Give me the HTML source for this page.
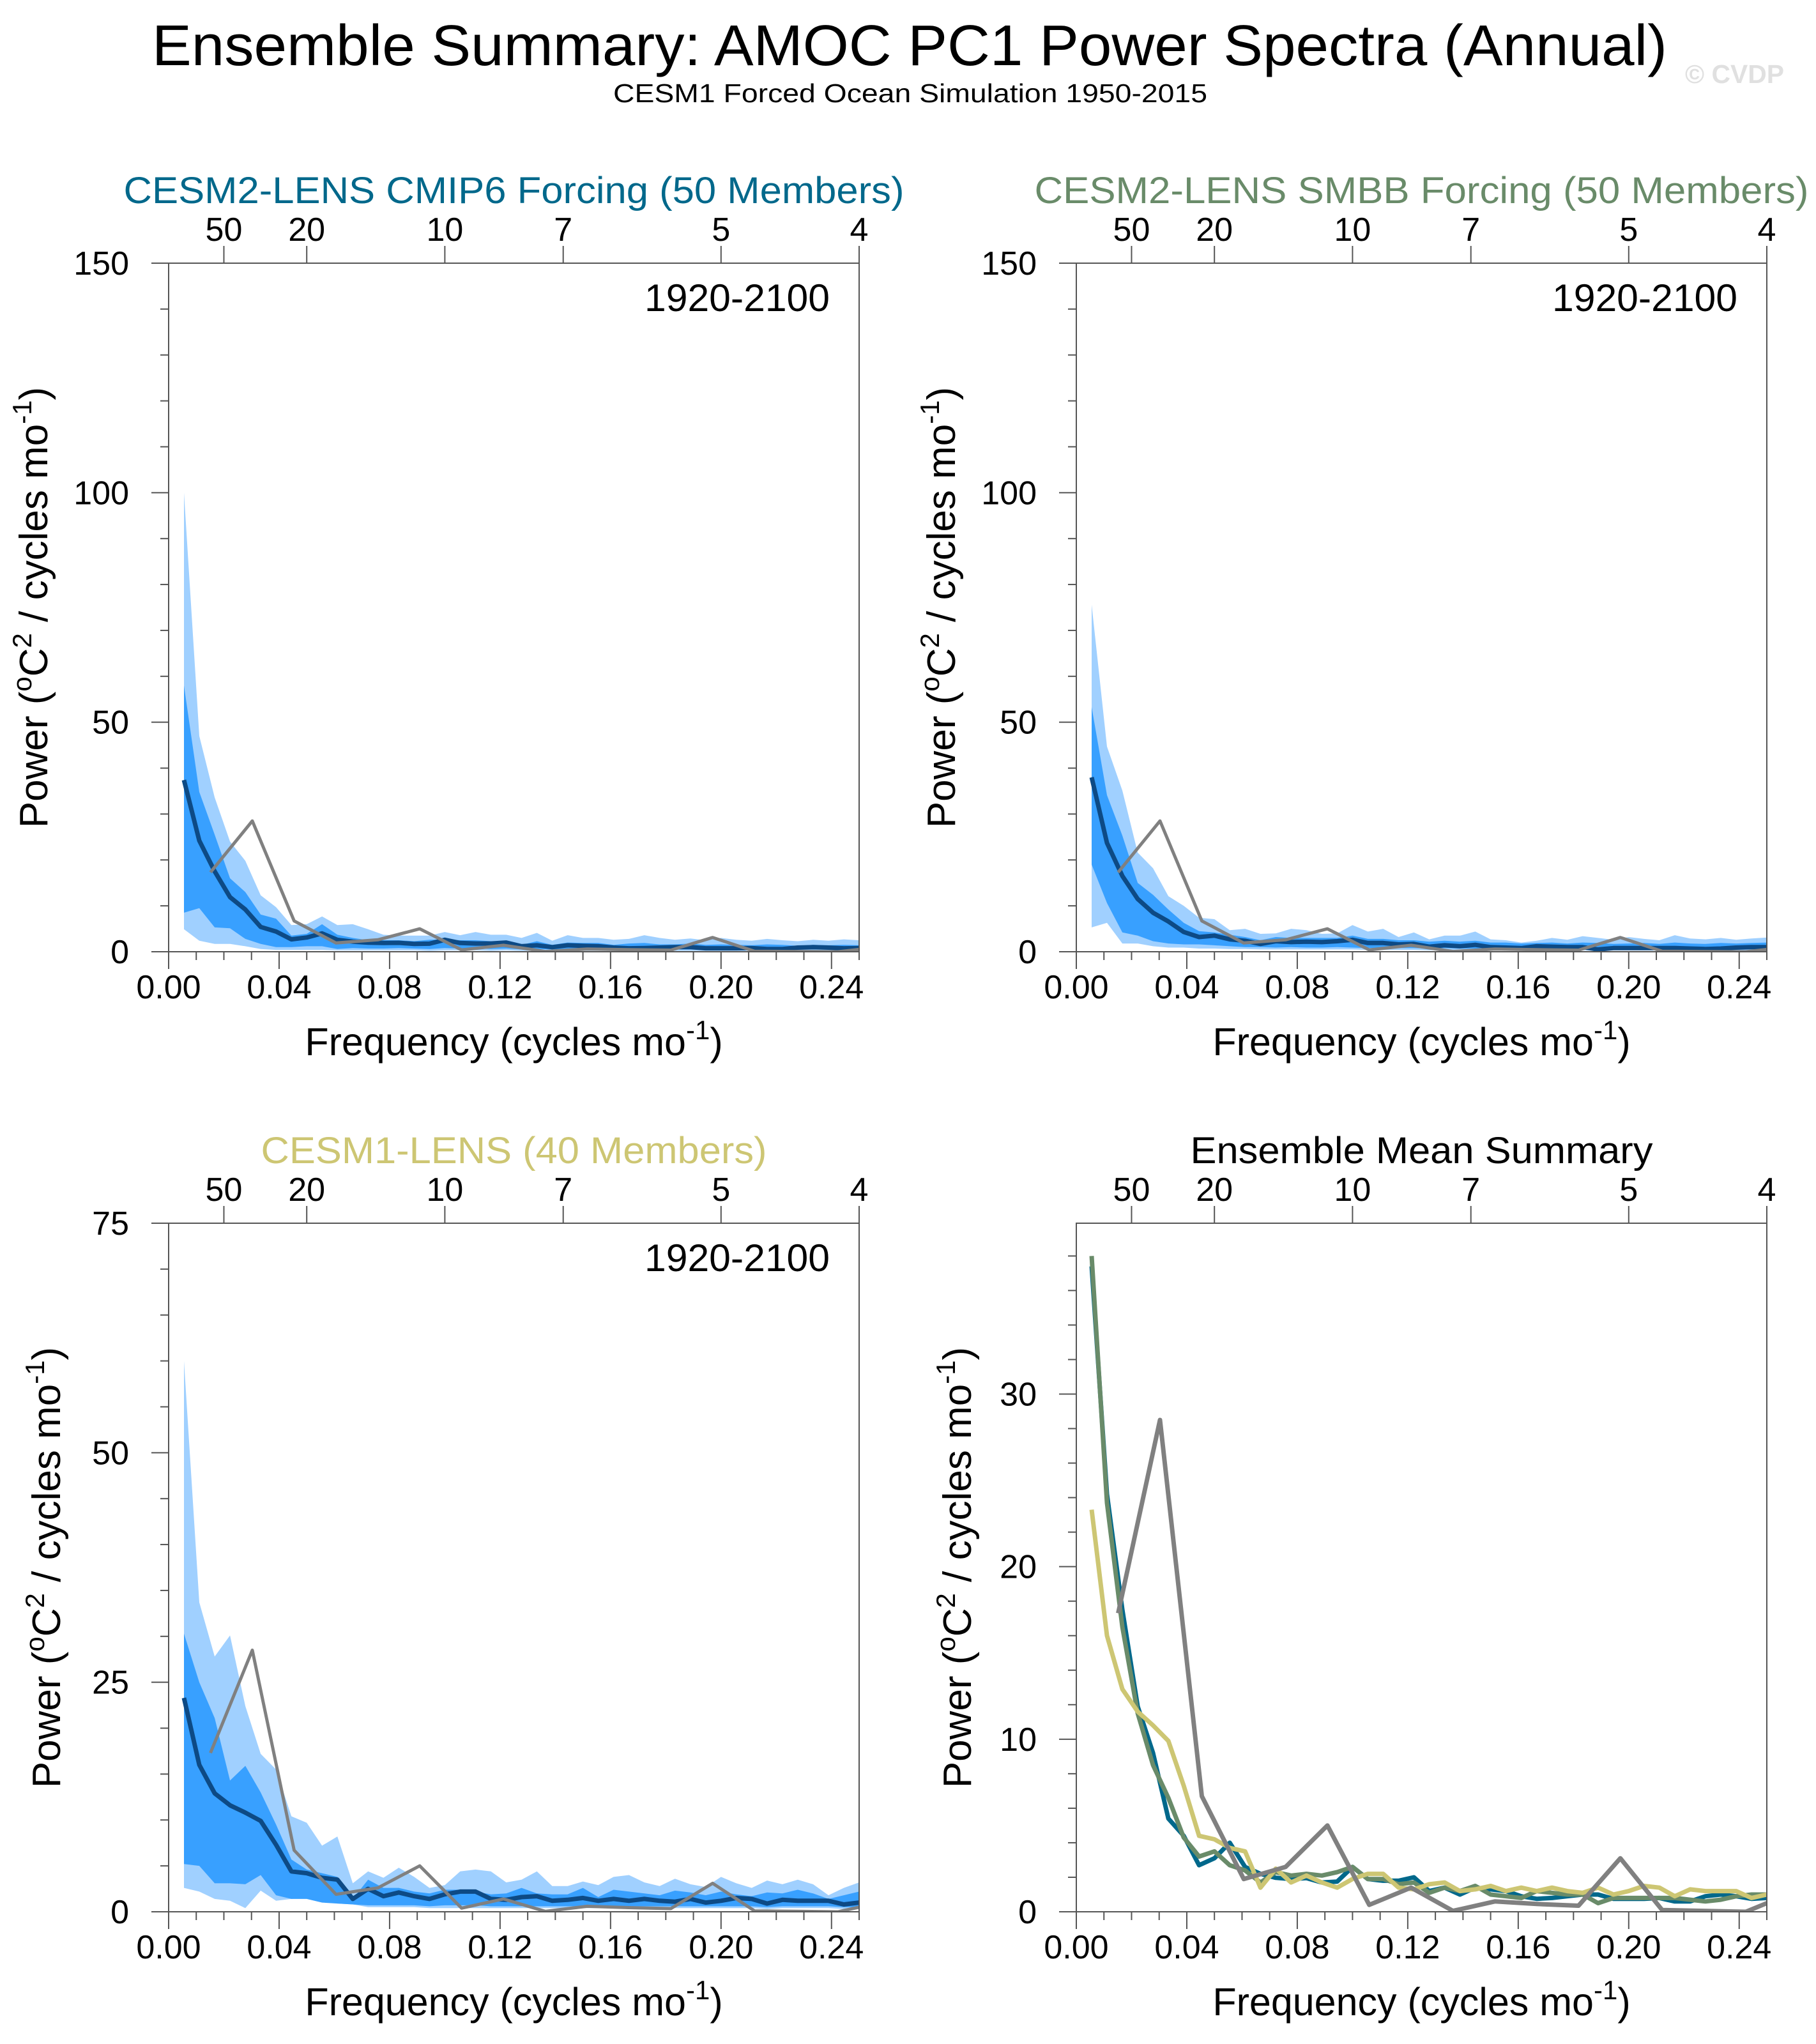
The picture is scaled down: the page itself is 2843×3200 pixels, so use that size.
<!DOCTYPE html>
<html><head><meta charset="utf-8"><title>AMOC PC1 Power Spectra</title>
<style>
html,body{margin:0;padding:0;background:#fff;}
svg{display:block;font-family:"Liberation Sans",Arial,sans-serif;}
</style></head>
<body>
<svg id="fig" xmlns="http://www.w3.org/2000/svg" width="2843" height="3200" viewBox="0 0 2843 3200">
<rect x="0" y="0" width="2843" height="3200" fill="#fff"/>
<text x="1424" y="102" font-size="90" text-anchor="middle" textLength="2372" lengthAdjust="spacingAndGlyphs">Ensemble Summary: AMOC PC1 Power Spectra (Annual)</text>
<text x="1425" y="160" font-size="41" text-anchor="middle" textLength="930" lengthAdjust="spacingAndGlyphs">CESM1 Forced Ocean Simulation 1950-2015</text>
<text x="2638" y="130" font-size="41" font-weight="bold" fill="#e0e0e0" textLength="155" lengthAdjust="spacingAndGlyphs">© CVDP</text>
</svg>
<script>
// ---- data ----
const dfModel = 1/180;   // model frequency spacing
const dfObs = 1/66;      // observation frequency spacing
const obsPower = [17.3,28.5,6.7,1.9,2.6,5.0,0.4,1.4,0.05,0.6,0.45,0.35,3.1,0.1,0.05,0.0,1.0];

const cmip6Mean = [37.4,24.2,17.5,11.9,9.2,5.4,4.4,2.7,3.1,4.0,2.6,2.2,1.97,1.9,1.95,1.7,1.75,2.6,1.9,1.8,1.8,2.0,1.2,1.4,1.0,1.4,1.3,1.2,0.9,0.75,0.8,0.9,1.0,1.0,0.75,0.75,0.75,0.8,0.6,0.6,0.9,1.0,0.9,0.75,0.8];
const cmip6LightHi = [100,47,33.6,24,19.8,12.3,9.7,5.8,6.0,7.7,5.8,6.0,4.9,3.7,3.5,3.5,3.5,4.3,3.6,4.3,3.7,3.7,3.0,4.1,2.4,3.6,3.0,3.0,2.6,2.8,3.6,3.0,2.6,2.9,2.5,3.0,2.6,2.4,2.8,2.5,2.3,2.6,2.4,2.7,2.5];
const cmip6DarkHi = [58,34.8,25.5,16,13,8.1,7.2,3.5,3.9,6.0,3.7,3.0,2.5,2.5,2.5,2.3,2.6,2.7,2.5,2.5,2.3,2.0,1.5,2.3,1.5,2.0,1.9,1.9,1.5,1.8,1.9,1.6,1.6,1.8,1.5,1.6,1.5,1.4,1.6,1.5,1.3,1.5,1.4,1.5,1.4];
const cmip6DarkLo = [8.5,9.5,5.3,5.1,2.8,1.7,1.0,1.0,1.2,1.2,0.6,0.8,0.7,0.7,0.8,0.7,0.6,0.8,0.7,0.7,0.6,0.7,0.5,0.6,0.5,0.6,0.6,0.5,0.5,0.5,0.6,0.5,0.5,0.5,0.5,0.5,0.5,0.5,0.4,0.4,0.5,0.5,0.5,0.4,0.4];
const cmip6LightLo = [4.9,2.4,1.7,1.7,1.2,0.6,0.4,0.4,0.4,0.4,0.3,0.3,0.3,0.3,0.3,0.3,0.2,0.3,0.3,0.3,0.2,0.3,0.2,0.2,0.2,0.2,0.2,0.2,0.2,0.2,0.2,0.2,0.2,0.2,0.2,0.2,0.2,0.2,0.1,0.1,0.2,0.2,0.2,0.1,0.1];

const smbbMean = [38.0,23.7,16.5,11.5,8.5,6.6,4.3,3.2,3.5,2.7,2.4,1.7,2.3,2.1,2.2,2.1,2.3,2.6,1.9,1.9,1.6,1.7,1.1,1.4,1.2,1.5,1.0,0.9,0.8,1.2,1.1,1.0,1.0,0.5,0.8,0.8,0.8,0.8,0.8,0.7,0.6,0.7,0.9,1.0,1.0];
const smbbLightHi = [75.6,44.7,35.1,21.6,18.2,12.1,10.0,7.4,7.1,4.7,5.0,3.9,4.0,5.0,4.7,3.9,4.0,5.8,4.4,5.0,3.2,4.2,2.7,3.5,3.5,4.4,2.7,2.5,2.0,2.4,3.0,2.6,3.4,3.0,2.6,3.2,2.8,2.5,3.6,2.9,2.7,3.0,2.6,2.9,3.1];
const smbbDarkHi = [53.3,34.1,25.3,15,12.4,9.2,6.3,4.5,4.2,3.7,3.2,2.5,3.2,3.0,3.0,3.0,3.0,3.5,2.8,2.8,2.5,2.5,2.2,2.4,2.2,2.4,2.0,2.0,1.8,1.9,2.0,1.8,2.0,1.9,1.7,1.8,1.9,1.7,2.0,1.8,1.7,1.9,1.8,1.9,2.0];
const smbbDarkLo = [19,10.6,4.2,3.5,2.3,1.8,1.6,1.6,1.4,1.2,1.0,1.0,0.9,1.0,0.9,0.9,1.0,0.9,0.8,0.9,0.8,0.8,0.7,0.8,0.7,0.7,0.6,0.6,0.6,0.7,0.6,0.6,0.6,0.4,0.5,0.5,0.5,0.5,0.5,0.5,0.4,0.5,0.5,0.6,0.6];
const smbbLightLo = [5.3,6.3,1.8,1.8,1.2,0.9,0.9,0.7,0.7,0.6,0.6,0.5,0.5,0.5,0.5,0.5,0.5,0.5,0.4,0.4,0.4,0.4,0.3,0.4,0.3,0.3,0.3,0.3,0.3,0.3,0.3,0.3,0.3,0.2,0.3,0.3,0.3,0.3,0.3,0.3,0.2,0.3,0.3,0.3,0.3];

const cesm1Mean = [23.3,16.0,12.9,11.6,10.8,9.9,7.3,4.4,4.2,3.7,3.5,1.4,2.5,1.7,2.1,1.7,1.4,1.9,2.2,2.2,1.4,1.3,1.6,1.7,1.2,1.3,1.5,1.2,1.4,1.2,1.4,1.2,1.1,1.4,1.0,1.2,1.5,1.4,0.9,1.3,1.2,1.2,1.2,0.8,1.0];
const cesm1LightHi = [60,33.7,27.8,30.1,22.4,17.2,15.5,10.4,9.7,7.2,8.2,3.1,4.4,3.7,4.8,3.8,2.6,2.9,4.4,4.6,4.4,3.2,3.5,4.4,2.8,2.8,3.3,2.9,3.8,4.0,3.2,2.8,3.6,3.0,2.7,3.8,3.1,2.6,3.4,3.0,3.5,3.0,1.8,2.6,3.2];
const cesm1DarkHi = [30.3,25,21.1,14.3,15.9,13,9.5,5.7,4.6,4.2,3.8,1.4,3.5,2.6,2.6,2.2,2.0,2.4,2.4,2.2,1.9,2.0,2.6,2.0,1.9,1.9,2.6,1.6,2.4,2.2,2.0,1.8,2.3,2.1,1.8,2.2,1.9,1.7,2.1,2.0,2.4,2.0,1.4,1.8,2.2];
const cesm1DarkLo = [5.2,5.0,3.1,3.1,3.0,4.0,1.8,1.4,1.4,1.0,0.9,0.8,0.7,0.7,0.7,0.7,0.6,0.7,0.7,0.7,0.6,0.6,0.6,0.6,0.6,0.6,0.6,0.6,0.6,0.6,0.6,0.6,0.6,0.6,0.6,0.6,0.6,0.6,0.5,0.6,0.6,0.6,0.6,0.5,0.5];
const cesm1LightLo = [2.6,2.2,1.4,1.2,0.4,2.3,1.2,1.4,1.6,1.2,0.9,0.8,0.5,0.5,0.5,0.5,0.4,0.4,0.4,0.4,0.4,0.4,0.4,0.4,0.4,0.4,0.4,0.4,0.4,0.4,0.4,0.4,0.4,0.4,0.4,0.4,0.4,0.4,0.3,0.4,0.4,0.4,0.4,0.3,0.3];

const xTickLabels = ["0.00","0.04","0.08","0.12","0.16","0.20","0.24"];
const periodLabels = [50,20,10,7,5,4];

// ---- drawing ----
const NS = "http://www.w3.org/2000/svg";
const svg = document.getElementById('fig');
function mk(tag, attrs, parent){
  const e = document.createElementNS(NS, tag);
  for (const k in attrs) e.setAttribute(k, attrs[k]);
  (parent||svg).appendChild(e);
  return e;
}
const XMAX = 0.25, PW = 1081, PH = 1078;

function yTitle(g, x, cy){
  const t = mk('text', {x:x, y:cy, 'font-size':62, 'text-anchor':'middle', transform:'rotate(-90 '+x+' '+cy+')'}, g);
  
  
  t.innerHTML = 'Power (<tspan font-size="42" dy="-25">o</tspan><tspan dy="25">C</tspan><tspan font-size="42" dy="-25">2</tspan><tspan dy="25"> / cycles mo</tspan><tspan font-size="42" dy="-25">-1</tspan><tspan dy="25">)</tspan>';
}

function panel(opt){
  const L = opt.left, T = opt.top, R = L + PW, B = T + PH;
  const g = mk('g', {});
  
  
  const xs = f => L + f / XMAX * PW;
  const ys = v => B - v / opt.ymax * PH;
  const cid = 'clip-' + opt.name;
  const cp = mk('clipPath', {id: cid}, g);
  mk('rect', {x:L, y:T, width:PW, height:PH}, cp);

  const tt = mk('text', {x:(L+R)/2, y:T-94, 'font-size':58, 'text-anchor':'middle', fill:opt.titleColor, textLength:opt.titleLen, lengthAdjust:'spacingAndGlyphs'}, g);
  
  
  tt.textContent = opt.title;

  const plot = mk('g', {'clip-path':'url(#'+cid+')'}, g);
  
  

  if (opt.bands){
    const b = opt.bands;
    function band(hi, lo, color, nm){
      let d = '';
      hi.forEach((v,i)=>{ d += (i?'L':'M') + xs((i+1)*dfModel).toFixed(1) + ',' + ys(v).toFixed(1); });
      for (let i = lo.length-1; i >= 0; i--) d += 'L' + xs((i+1)*dfModel).toFixed(1) + ',' + ys(lo[i]).toFixed(1);
      const p = mk('path', {d:d+'Z', fill:color, stroke:'none'}, plot);
      
      
    }
    band(b.lightHi, b.lightLo, '#a0d0ff', 'spread-band-outer');
    band(b.darkHi, b.darkLo, '#38a0ff', 'spread-band-inner');
  }
  function line(vals, df, color, w, nm){
    let d = '';
    vals.forEach((v,i)=>{ d += (i?'L':'M') + xs((i+1)*df).toFixed(1) + ',' + ys(v).toFixed(1); });
    const p = mk('path', {d:d, fill:'none', stroke:color, 'stroke-width':w, 'stroke-linejoin':'round'}, plot);
    
    
  }
  opt.lines.forEach(l => line(l.vals, l.df, l.color, l.w, l.name));

  const fr = mk('path', {d:'M'+L+','+T+'H'+R+'V'+B+'H'+L+'Z', fill:'none', stroke:'#555', 'stroke-width':2}, g);
  
  

  for (let v = 0; v <= opt.ymax + 1e-6; v += opt.yminor){
    const major = Math.abs(v/opt.ymajor - Math.round(v/opt.ymajor)) < 1e-6;
    const tk = mk('line', {x1:L, x2:L-(major?27:13), y1:ys(v), y2:ys(v), stroke:'#555', 'stroke-width':2}, g);
    
    
    if (major){
      const lb = mk('text', {x:L-62, y:ys(v)+18, 'font-size':52, 'text-anchor':'end'}, g);
      
      
      lb.textContent = Math.round(v);
    }
  }
  for (let i = 0; i <= 25; i++){
    const f = i * 0.01, major = (i % 4 === 0);
    const tk = mk('line', {x1:xs(f), x2:xs(f), y1:B, y2:B+(major?27:13), stroke:'#555', 'stroke-width':2}, g);
    
    
  }
  xTickLabels.forEach(s => {
    const lb = mk('text', {x:xs(parseFloat(s)), y:B+73, 'font-size':52, 'text-anchor':'middle'}, g);
    
    
    lb.textContent = s;
  });
  periodLabels.forEach(p => {
    const x = xs(1/p);
    const tk = mk('line', {x1:x, x2:x, y1:T, y2:T-27, stroke:'#555', 'stroke-width':2}, g);
    
    
    const lb = mk('text', {x:x, y:T-35, 'font-size':52, 'text-anchor':'middle'}, g);
    
    
    lb.textContent = p;
  });
  const xt = mk('text', {x:(L+R)/2, y:B+162, 'font-size':61, 'text-anchor':'middle'}, g);
  
  
  xt.innerHTML = 'Frequency (cycles mo<tspan font-size="42" dy="-25">-1</tspan><tspan dy="25">)</tspan>';
  yTitle(g, opt.ytx, (T+B)/2);
  if (opt.period){
    const pl = mk('text', {x:R-46, y:T+75, 'font-size':60, 'text-anchor':'end', textLength:290, lengthAdjust:'spacingAndGlyphs'}, g);
    
    
    pl.textContent = '1920-2100';
  }
}

const meanColor = '#0d4a85', obsColor = '#808080';
panel({name:'panel-cmip6', left:264, top:412, ymax:150, ymajor:50, yminor:10, ytx:74,
  title:'CESM2-LENS CMIP6 Forcing (50 Members)', titleColor:'#00688b', titleLen:1222, period:true,
  bands:{lightHi:cmip6LightHi, lightLo:cmip6LightLo, darkHi:cmip6DarkHi, darkLo:cmip6DarkLo},
  lines:[{vals:cmip6Mean, df:dfModel, color:meanColor, w:7, name:'ensemble-mean-line'},
         {vals:obsPower, df:dfObs, color:obsColor, w:5, name:'observed-line'}]});
panel({name:'panel-smbb', left:1685, top:412, ymax:150, ymajor:50, yminor:10, ytx:1495,
  title:'CESM2-LENS SMBB Forcing (50 Members)', titleColor:'#698b69', titleLen:1212, period:true,
  bands:{lightHi:smbbLightHi, lightLo:smbbLightLo, darkHi:smbbDarkHi, darkLo:smbbDarkLo},
  lines:[{vals:smbbMean, df:dfModel, color:meanColor, w:7, name:'ensemble-mean-line'},
         {vals:obsPower, df:dfObs, color:obsColor, w:5, name:'observed-line'}]});
panel({name:'panel-cesm1', left:264, top:1915, ymax:75, ymajor:25, yminor:5, ytx:94,
  title:'CESM1-LENS (40 Members)', titleColor:'#cdc673', titleLen:792, period:true,
  bands:{lightHi:cesm1LightHi, lightLo:cesm1LightLo, darkHi:cesm1DarkHi, darkLo:cesm1DarkLo},
  lines:[{vals:cesm1Mean, df:dfModel, color:meanColor, w:7, name:'ensemble-mean-line'},
         {vals:obsPower, df:dfObs, color:obsColor, w:5, name:'observed-line'}]});
panel({name:'panel-summary', left:1685, top:1915, ymax:39.9, ymajor:10, yminor:2, ytx:1520,
  title:'Ensemble Mean Summary', titleColor:'#000', titleLen:724, period:false,
  lines:[{vals:cmip6Mean, df:dfModel, color:'#00688b', w:7, name:'cmip6-mean-line'},
         {vals:smbbMean, df:dfModel, color:'#698b69', w:7, name:'smbb-mean-line'},
         {vals:cesm1Mean, df:dfModel, color:'#cdc673', w:7, name:'cesm1-mean-line'},
         {vals:obsPower, df:dfObs, color:obsColor, w:7, name:'observed-line'}]});
</script>
</body></html>
